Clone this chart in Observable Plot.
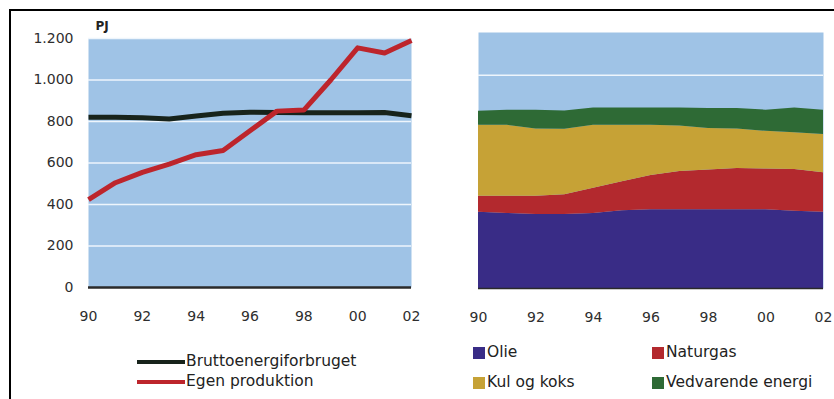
<!DOCTYPE html>
<html>
<head>
<meta charset="utf-8">
<script src="https://cdn.jsdelivr.net/npm/d3@7"></script>
<script src="https://cdn.jsdelivr.net/npm/@observablehq/plot@0.6"></script>
<style>
  html, body { margin: 0; padding: 0; background: #fff; }
  #wrap { position: relative; width: 834px; height: 399px; overflow: hidden; font-family: "DejaVu Sans", sans-serif; color: #222; }
  #frame { position: absolute; left: 9px; top: 9px; right: 0; bottom: 0; border-top: 2px solid #000; border-left: 2px solid #000; }
  .panel { position: absolute; top: 0; }
  .panel svg { display: block; }
  .leg { position: absolute; font-size: 15.5px; line-height: 1; white-space: nowrap; display: flex; align-items: center; }
  .leg .ln { width: 48px; height: 4px; margin-right: 1px; }
  .leg .sq { width: 12px; height: 12px; margin-right: 2px; }
</style>
</head>
<body>
<div id="wrap">
  <div id="frame"></div>
  <div id="left" class="panel" style="left:0"></div>
  <div id="right" class="panel" style="left:420px"></div>
</div>
<script>
// Years 1990–2002
const years = d3.range(1990, 2003);

// Left panel: gross energy consumption vs. own production (PJ)
const brutto = [820, 821, 818, 812, 826, 840, 845, 843, 842, 842, 842, 843, 828];
const egen   = [424, 505, 555, 595, 640, 660, 755, 850, 855, 1000, 1155, 1130, 1190];
const lineNames  = ["Bruttoenergiforbruget", "Egen produktion"];
const lineColors = ["#17231b", "#bd252c"];

// Right panel: consumption by fuel (PJ), stacked from the bottom
const olie       = [358, 352, 347, 347, 352, 365, 369, 369, 369, 369, 369, 362, 358];
const naturgas   = [74, 80, 85, 93, 118, 135, 161, 179, 186, 193, 191, 196, 185];
const kul        = [333, 333, 316, 306, 295, 265, 235, 214, 195, 186, 177, 172, 179];
const vedvarende = [66, 70, 87, 86, 81, 81, 81, 84, 94, 96, 99, 116, 114];
const fuelNames  = ["Olie", "Naturgas", "Kul og koks", "Vedvarende energi"];
const fuelColors = ["#392c86", "#b3292e", "#c6a236", "#2e6a35"];

// Axis ticks
const xTicks = d3.range(1990, 2003, 2);
const yTicks = [0, 200, 400, 600, 800, 1000, 1200];

const bg = "#9fc3e6";
const fmtY = d3.formatLocale({thousands: ".", decimal: ",", grouping: [3], currency: ["", ""]}).format(",d");
const fmtX = d => String(d).slice(2);

// ---- Left panel ----
const lineData = [
  ...years.map((year, i) => ({year, value: brutto[i], series: lineNames[0]})),
  ...years.map((year, i) => ({year, value: egen[i], series: lineNames[1]}))
];

const left = Plot.plot({
  width: 420, height: 330,
  marginLeft: 88, marginRight: 9, marginTop: 38, marginBottom: 43,
  style: {fontFamily: "DejaVu Sans, sans-serif", fontSize: "14px", color: "#2e2e2e", background: "transparent"},
  x: {domain: [1990, 2002], ticks: xTicks, tickFormat: fmtX, tickSize: 0, tickPadding: 24, label: null},
  y: {domain: [0, 1200], ticks: yTicks, tickFormat: fmtY, tickSize: 0, tickPadding: 15, label: null},
  color: {domain: lineNames, range: lineColors},
  marks: [
    Plot.frame({fill: bg, stroke: null}),
    Plot.ruleY(yTicks.filter(d => d > 0), {stroke: "#eef5fc", strokeWidth: 1.5}),
    Plot.ruleY([0], {stroke: "#2a2a2a", strokeWidth: 2.5}),
    Plot.line(lineData, {x: "year", y: "value", z: "series", stroke: "series", strokeWidth: 5, strokeLinejoin: "round", strokeLinecap: "butt"}),
    Plot.text(["PJ"], {frameAnchor: "top-left", dx: 7, dy: -17, textAnchor: "start", fontWeight: "bold", fontSize: 12, fill: "#222"})
  ]
});
document.getElementById("left").appendChild(left);

// ---- Right panel ----
const fuelSeries = [olie, naturgas, kul, vedvarende];
const fuelData = fuelSeries.flatMap((vals, k) => years.map((year, i) => ({year, value: vals[i], fuel: fuelNames[k]})));

const right = Plot.plot({
  width: 414, height: 330,
  marginLeft: 58, marginRight: 11, marginTop: 32, marginBottom: 42,
  style: {fontFamily: "DejaVu Sans, sans-serif", fontSize: "14px", color: "#2e2e2e", background: "transparent"},
  x: {domain: [1990, 2002], ticks: xTicks, tickFormat: fmtX, tickSize: 0, tickPadding: 24, label: null},
  y: {domain: [0, 1200], axis: null},
  color: {domain: fuelNames, range: fuelColors},
  marks: [
    Plot.frame({fill: bg, stroke: null}),
    Plot.ruleY(yTicks.filter(d => d > 0 && d < 1200), {stroke: "#eef5fc", strokeWidth: 1.5}),
    Plot.areaY(fuelData, {x: "year", y: "value", z: "fuel", fill: "fuel", order: fuelNames}),
    Plot.ruleY([0], {stroke: "#2a2a2a", strokeWidth: 1.5})
  ]
});
document.getElementById("right").appendChild(right);

// ---- Legends ----
const wrap = document.getElementById("wrap");
function addLegend(x, y, color, label, kind) {
  const el = document.createElement("div");
  el.className = "leg";
  el.style.left = x + "px";
  el.style.top = (y - 8) + "px";
  el.style.height = "16px";
  const sw = document.createElement("span");
  sw.className = kind;
  sw.style.background = color;
  const tx = document.createElement("span");
  tx.textContent = label;
  el.append(sw, tx);
  wrap.appendChild(el);
}
addLegend(137, 362, lineColors[0], lineNames[0], "ln");
addLegend(137, 382, lineColors[1], lineNames[1], "ln");
const fuelLegendPos = [[473, 353], [652, 353], [473, 383], [652, 383]];
fuelNames.forEach((name, k) => addLegend(fuelLegendPos[k][0], fuelLegendPos[k][1], fuelColors[k], name, "sq"));
</script>
</body>
</html>
